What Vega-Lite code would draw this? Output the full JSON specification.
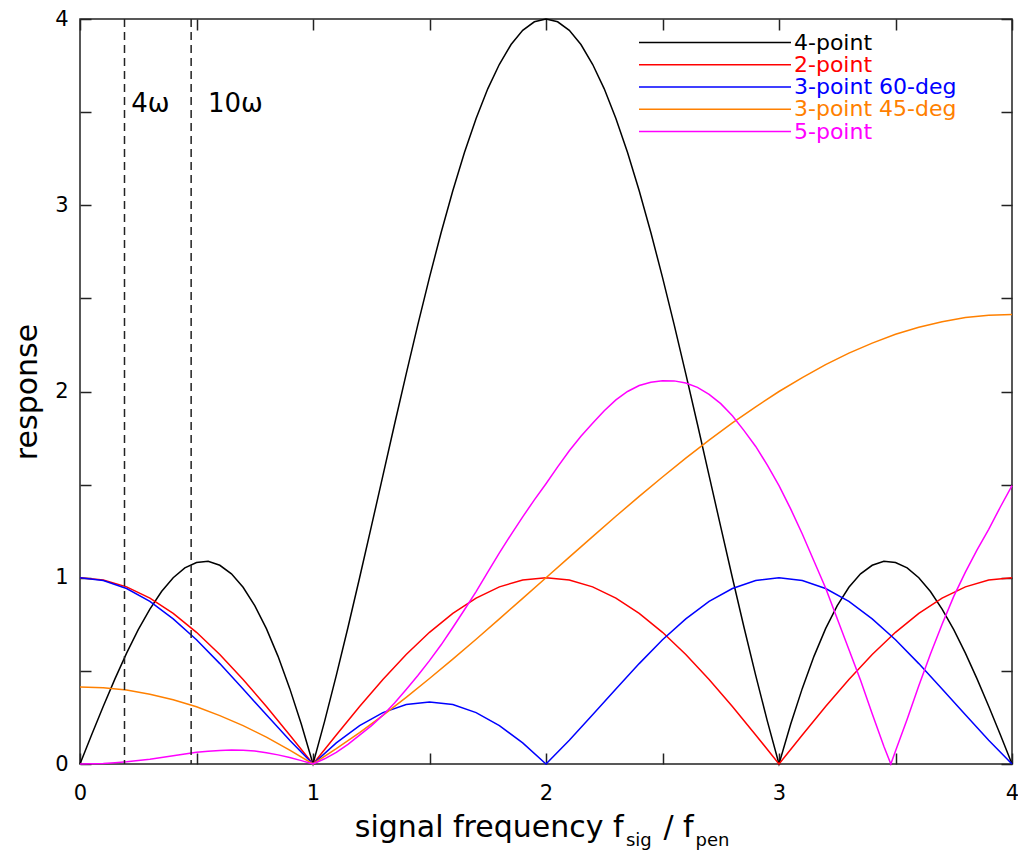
{
"$schema": "https://vega.github.io/schema/vega-lite/v6.json",
"width": 932, "height": 745,
"autosize": {"type": "none"},
"padding": {"left": 80, "top": 19, "right": 6, "bottom": 96},
"background": "white",
"config": {"view": {"stroke": "#222", "strokeWidth": 1.5}, "font": "DejaVu Sans", "axis": {"grid": false}},
"resolve": {"axis": {"x": "independent", "y": "independent"}},
"datasets": {
"curves": [
{"s":"4-point","x":0,"y":0},{"s":"4-point","x":0.05,"y":0.157},{"s":"4-point","x":0.1,"y":0.31},{"s":"4-point","x":0.15,"y":0.457},{"s":"4-point","x":0.2,"y":0.595},{"s":"4-point","x":0.25,"y":0.721},{"s":"4-point","x":0.3,"y":0.832},{"s":"4-point","x":0.35,"y":0.926},{"s":"4-point","x":0.4,"y":1},{"s":"4-point","x":0.45,"y":1.053},{"s":"4-point","x":0.5,"y":1.082},{"s":"4-point","x":0.55,"y":1.088},{"s":"4-point","x":0.6,"y":1.067},{"s":"4-point","x":0.65,"y":1.021},{"s":"4-point","x":0.7,"y":0.949},{"s":"4-point","x":0.75,"y":0.85},{"s":"4-point","x":0.8,"y":0.727},{"s":"4-point","x":0.85,"y":0.578},{"s":"4-point","x":0.9,"y":0.406},{"s":"4-point","x":0.95,"y":0.213},{"s":"4-point","x":1,"y":0},
{"s":"4-point","x":1.05,"y":0.23},{"s":"4-point","x":1.1,"y":0.476},{"s":"4-point","x":1.15,"y":0.733},{"s":"4-point","x":1.2,"y":1},{"s":"4-point","x":1.25,"y":1.273},{"s":"4-point","x":1.3,"y":1.548},{"s":"4-point","x":1.35,"y":1.824},{"s":"4-point","x":1.4,"y":2.095},{"s":"4-point","x":1.45,"y":2.359},{"s":"4-point","x":1.5,"y":2.613},{"s":"4-point","x":1.55,"y":2.854},{"s":"4-point","x":1.6,"y":3.078},{"s":"4-point","x":1.65,"y":3.283},{"s":"4-point","x":1.7,"y":3.466},{"s":"4-point","x":1.75,"y":3.625},{"s":"4-point","x":1.8,"y":3.757},{"s":"4-point","x":1.85,"y":3.863},{"s":"4-point","x":1.9,"y":3.939},{"s":"4-point","x":1.95,"y":3.985},{"s":"4-point","x":2,"y":4},
{"s":"4-point","x":2.05,"y":3.985},{"s":"4-point","x":2.1,"y":3.939},{"s":"4-point","x":2.15,"y":3.863},{"s":"4-point","x":2.2,"y":3.757},{"s":"4-point","x":2.25,"y":3.625},{"s":"4-point","x":2.3,"y":3.466},{"s":"4-point","x":2.35,"y":3.283},{"s":"4-point","x":2.4,"y":3.078},{"s":"4-point","x":2.45,"y":2.854},{"s":"4-point","x":2.5,"y":2.613},{"s":"4-point","x":2.55,"y":2.359},{"s":"4-point","x":2.6,"y":2.095},{"s":"4-point","x":2.65,"y":1.824},{"s":"4-point","x":2.7,"y":1.548},{"s":"4-point","x":2.75,"y":1.273},{"s":"4-point","x":2.8,"y":1},{"s":"4-point","x":2.85,"y":0.733},{"s":"4-point","x":2.9,"y":0.476},{"s":"4-point","x":2.95,"y":0.23},{"s":"4-point","x":3,"y":0},
{"s":"4-point","x":3.05,"y":0.213},{"s":"4-point","x":3.1,"y":0.406},{"s":"4-point","x":3.15,"y":0.578},{"s":"4-point","x":3.2,"y":0.727},{"s":"4-point","x":3.25,"y":0.85},{"s":"4-point","x":3.3,"y":0.949},{"s":"4-point","x":3.35,"y":1.021},{"s":"4-point","x":3.4,"y":1.067},{"s":"4-point","x":3.45,"y":1.088},{"s":"4-point","x":3.5,"y":1.082},{"s":"4-point","x":3.55,"y":1.053},{"s":"4-point","x":3.6,"y":1},{"s":"4-point","x":3.65,"y":0.926},{"s":"4-point","x":3.7,"y":0.832},{"s":"4-point","x":3.75,"y":0.721},{"s":"4-point","x":3.8,"y":0.595},{"s":"4-point","x":3.85,"y":0.457},{"s":"4-point","x":3.9,"y":0.31},{"s":"4-point","x":3.95,"y":0.157},{"s":"4-point","x":4,"y":0},
{"s":"2-point","x":0,"y":1},{"s":"2-point","x":0.1,"y":0.988},{"s":"2-point","x":0.2,"y":0.951},{"s":"2-point","x":0.3,"y":0.891},{"s":"2-point","x":0.4,"y":0.809},{"s":"2-point","x":0.5,"y":0.707},{"s":"2-point","x":0.6,"y":0.588},{"s":"2-point","x":0.7,"y":0.454},{"s":"2-point","x":0.8,"y":0.309},{"s":"2-point","x":0.9,"y":0.156},{"s":"2-point","x":1,"y":0},{"s":"2-point","x":1.1,"y":0.156},{"s":"2-point","x":1.2,"y":0.309},{"s":"2-point","x":1.3,"y":0.454},{"s":"2-point","x":1.4,"y":0.588},{"s":"2-point","x":1.5,"y":0.707},{"s":"2-point","x":1.6,"y":0.809},{"s":"2-point","x":1.7,"y":0.891},{"s":"2-point","x":1.8,"y":0.951},{"s":"2-point","x":1.9,"y":0.988},{"s":"2-point","x":2,"y":1},{"s":"2-point","x":2.1,"y":0.988},{"s":"2-point","x":2.2,"y":0.951},{"s":"2-point","x":2.3,"y":0.891},{"s":"2-point","x":2.4,"y":0.809},{"s":"2-point","x":2.5,"y":0.707},{"s":"2-point","x":2.6,"y":0.588},{"s":"2-point","x":2.7,"y":0.454},{"s":"2-point","x":2.8,"y":0.309},{"s":"2-point","x":2.9,"y":0.156},{"s":"2-point","x":3,"y":0},{"s":"2-point","x":3.1,"y":0.156},{"s":"2-point","x":3.2,"y":0.309},{"s":"2-point","x":3.3,"y":0.454},{"s":"2-point","x":3.4,"y":0.588},{"s":"2-point","x":3.5,"y":0.707},{"s":"2-point","x":3.6,"y":0.809},{"s":"2-point","x":3.7,"y":0.891},{"s":"2-point","x":3.8,"y":0.951},{"s":"2-point","x":3.9,"y":0.988},{"s":"2-point","x":4,"y":1},
{"s":"3-point 60-deg","x":0,"y":1},{"s":"3-point 60-deg","x":0.1,"y":0.985},{"s":"3-point 60-deg","x":0.2,"y":0.942},{"s":"3-point 60-deg","x":0.3,"y":0.873},{"s":"3-point 60-deg","x":0.4,"y":0.779},{"s":"3-point 60-deg","x":0.5,"y":0.667},{"s":"3-point 60-deg","x":0.6,"y":0.539},{"s":"3-point 60-deg","x":0.7,"y":0.403},{"s":"3-point 60-deg","x":0.8,"y":0.264},{"s":"3-point 60-deg","x":0.9,"y":0.127},{"s":"3-point 60-deg","x":1,"y":0},{"s":"3-point 60-deg","x":1.1,"y":0.113},{"s":"3-point 60-deg","x":1.2,"y":0.206},{"s":"3-point 60-deg","x":1.3,"y":0.276},{"s":"3-point 60-deg","x":1.4,"y":0.319},{"s":"3-point 60-deg","x":1.5,"y":0.333},{"s":"3-point 60-deg","x":1.6,"y":0.319},{"s":"3-point 60-deg","x":1.7,"y":0.276},{"s":"3-point 60-deg","x":1.8,"y":0.206},{"s":"3-point 60-deg","x":1.9,"y":0.113},{"s":"3-point 60-deg","x":2,"y":0},{"s":"3-point 60-deg","x":2.1,"y":0.127},{"s":"3-point 60-deg","x":2.2,"y":0.264},{"s":"3-point 60-deg","x":2.3,"y":0.403},{"s":"3-point 60-deg","x":2.4,"y":0.539},{"s":"3-point 60-deg","x":2.5,"y":0.667},{"s":"3-point 60-deg","x":2.6,"y":0.779},{"s":"3-point 60-deg","x":2.7,"y":0.873},{"s":"3-point 60-deg","x":2.8,"y":0.942},{"s":"3-point 60-deg","x":2.9,"y":0.985},{"s":"3-point 60-deg","x":3,"y":1},{"s":"3-point 60-deg","x":3.1,"y":0.985},{"s":"3-point 60-deg","x":3.2,"y":0.942},{"s":"3-point 60-deg","x":3.3,"y":0.873},{"s":"3-point 60-deg","x":3.4,"y":0.779},{"s":"3-point 60-deg","x":3.5,"y":0.667},{"s":"3-point 60-deg","x":3.6,"y":0.539},{"s":"3-point 60-deg","x":3.7,"y":0.403},{"s":"3-point 60-deg","x":3.8,"y":0.264},{"s":"3-point 60-deg","x":3.9,"y":0.127},{"s":"3-point 60-deg","x":4,"y":0},
{"s":"3-point 45-deg","x":0,"y":0.414},{"s":"3-point 45-deg","x":0.1,"y":0.41},{"s":"3-point 45-deg","x":0.2,"y":0.397},{"s":"3-point 45-deg","x":0.3,"y":0.375},{"s":"3-point 45-deg","x":0.4,"y":0.345},{"s":"3-point 45-deg","x":0.5,"y":0.307},{"s":"3-point 45-deg","x":0.6,"y":0.26},{"s":"3-point 45-deg","x":0.7,"y":0.206},{"s":"3-point 45-deg","x":0.8,"y":0.144},{"s":"3-point 45-deg","x":0.9,"y":0.075},{"s":"3-point 45-deg","x":1,"y":0},{"s":"3-point 45-deg","x":1.1,"y":0.082},{"s":"3-point 45-deg","x":1.2,"y":0.169},{"s":"3-point 45-deg","x":1.3,"y":0.261},{"s":"3-point 45-deg","x":1.4,"y":0.358},{"s":"3-point 45-deg","x":1.5,"y":0.459},{"s":"3-point 45-deg","x":1.6,"y":0.563},{"s":"3-point 45-deg","x":1.7,"y":0.67},{"s":"3-point 45-deg","x":1.8,"y":0.779},{"s":"3-point 45-deg","x":1.9,"y":0.889},{"s":"3-point 45-deg","x":2,"y":1},{"s":"3-point 45-deg","x":2.1,"y":1.111},{"s":"3-point 45-deg","x":2.2,"y":1.221},{"s":"3-point 45-deg","x":2.3,"y":1.33},{"s":"3-point 45-deg","x":2.4,"y":1.437},{"s":"3-point 45-deg","x":2.5,"y":1.541},{"s":"3-point 45-deg","x":2.6,"y":1.642},{"s":"3-point 45-deg","x":2.7,"y":1.739},{"s":"3-point 45-deg","x":2.8,"y":1.831},{"s":"3-point 45-deg","x":2.9,"y":1.918},{"s":"3-point 45-deg","x":3,"y":2},{"s":"3-point 45-deg","x":3.1,"y":2.075},{"s":"3-point 45-deg","x":3.2,"y":2.144},{"s":"3-point 45-deg","x":3.3,"y":2.206},{"s":"3-point 45-deg","x":3.4,"y":2.26},{"s":"3-point 45-deg","x":3.5,"y":2.307},{"s":"3-point 45-deg","x":3.6,"y":2.345},{"s":"3-point 45-deg","x":3.7,"y":2.375},{"s":"3-point 45-deg","x":3.8,"y":2.397},{"s":"3-point 45-deg","x":3.9,"y":2.41},{"s":"3-point 45-deg","x":4,"y":2.414},
{"s":"5-point","x":0,"y":0},{"s":"5-point","x":0.05,"y":0.001},{"s":"5-point","x":0.1,"y":0.003},{"s":"5-point","x":0.15,"y":0.007},{"s":"5-point","x":0.2,"y":0.012},{"s":"5-point","x":0.25,"y":0.019},{"s":"5-point","x":0.3,"y":0.026},{"s":"5-point","x":0.35,"y":0.035},{"s":"5-point","x":0.4,"y":0.044},{"s":"5-point","x":0.45,"y":0.054},{"s":"5-point","x":0.5,"y":0.063},{"s":"5-point","x":0.55,"y":0.069},{"s":"5-point","x":0.6,"y":0.073},{"s":"5-point","x":0.65,"y":0.075},{"s":"5-point","x":0.7,"y":0.074},{"s":"5-point","x":0.75,"y":0.07},{"s":"5-point","x":0.8,"y":0.061},{"s":"5-point","x":0.85,"y":0.049},{"s":"5-point","x":0.9,"y":0.035},{"s":"5-point","x":0.95,"y":0.018},{"s":"5-point","x":1,"y":0},
{"s":"5-point","x":1.05,"y":0.028},{"s":"5-point","x":1.1,"y":0.062},{"s":"5-point","x":1.15,"y":0.105},{"s":"5-point","x":1.2,"y":0.155},{"s":"5-point","x":1.25,"y":0.205},{"s":"5-point","x":1.3,"y":0.262},{"s":"5-point","x":1.35,"y":0.328},{"s":"5-point","x":1.4,"y":0.4},{"s":"5-point","x":1.45,"y":0.475},{"s":"5-point","x":1.5,"y":0.555},{"s":"5-point","x":1.55,"y":0.64},{"s":"5-point","x":1.6,"y":0.733},{"s":"5-point","x":1.65,"y":0.828},{"s":"5-point","x":1.7,"y":0.926},{"s":"5-point","x":1.75,"y":1.03},{"s":"5-point","x":1.8,"y":1.133},{"s":"5-point","x":1.85,"y":1.232},{"s":"5-point","x":1.9,"y":1.327},{"s":"5-point","x":1.95,"y":1.418},{"s":"5-point","x":2,"y":1.505},
{"s":"5-point","x":2.05,"y":1.595},{"s":"5-point","x":2.1,"y":1.682},{"s":"5-point","x":2.15,"y":1.76},{"s":"5-point","x":2.2,"y":1.83},{"s":"5-point","x":2.25,"y":1.897},{"s":"5-point","x":2.3,"y":1.955},{"s":"5-point","x":2.35,"y":2},{"s":"5-point","x":2.4,"y":2.032},{"s":"5-point","x":2.45,"y":2.05},{"s":"5-point","x":2.5,"y":2.058},{"s":"5-point","x":2.55,"y":2.057},{"s":"5-point","x":2.6,"y":2.046},{"s":"5-point","x":2.65,"y":2.022},{"s":"5-point","x":2.7,"y":1.985},{"s":"5-point","x":2.75,"y":1.935},{"s":"5-point","x":2.8,"y":1.87},{"s":"5-point","x":2.85,"y":1.79},{"s":"5-point","x":2.9,"y":1.705},{"s":"5-point","x":2.95,"y":1.605},{"s":"5-point","x":3,"y":1.495},
{"s":"5-point","x":3.05,"y":1.37},{"s":"5-point","x":3.1,"y":1.235},{"s":"5-point","x":3.15,"y":1.09},{"s":"5-point","x":3.2,"y":0.945},{"s":"5-point","x":3.25,"y":0.78},{"s":"5-point","x":3.3,"y":0.615},{"s":"5-point","x":3.35,"y":0.45},{"s":"5-point","x":3.4,"y":0.27},{"s":"5-point","x":3.45,"y":0.095},{"s":"5-point","x":3.48,"y":0},{"s":"5-point","x":3.5,"y":0.07},{"s":"5-point","x":3.55,"y":0.24},{"s":"5-point","x":3.6,"y":0.42},{"s":"5-point","x":3.65,"y":0.59},{"s":"5-point","x":3.7,"y":0.75},{"s":"5-point","x":3.75,"y":0.9},{"s":"5-point","x":3.8,"y":1.03},{"s":"5-point","x":3.85,"y":1.15},{"s":"5-point","x":3.9,"y":1.26},{"s":"5-point","x":3.95,"y":1.38},{"s":"5-point","x":4,"y":1.495}
]
},
"layer": [
{
"data": {"name": "curves"},
"mark": {"type": "line", "strokeWidth": 1.5},
"encoding": {
"x": {"field": "x", "type": "quantitative", "scale": {"domain": [0, 4], "nice": false, "zero": false},
 "axis": {"orient": "bottom", "values": [0,0.5,1,1.5,2,2.5,3,3.5,4], "labelExpr": "datum.value % 1 === 0 ? '' + datum.value : ''", "tickSize": -11, "tickWidth": 1.5, "tickColor": "#222", "domain": false, "labelFontSize": 21, "labelColor": "black", "labelPadding": 29, "labelFlush": false, "labelOverlap": false, "title": null}},
"y": {"field": "y", "type": "quantitative", "scale": {"domain": [0, 4], "nice": false, "zero": false},
 "axis": {"orient": "left", "values": [0,0.5,1,1.5,2,2.5,3,3.5,4], "labelExpr": "datum.value % 1 === 0 ? '' + datum.value : ''", "tickSize": -11, "tickWidth": 1.5, "tickColor": "#222", "domain": false, "labelFontSize": 21, "labelColor": "black", "labelPadding": 23, "labelOverlap": false, "labelFlush": false, "title": "response", "titleFontSize": 30, "titleFontWeight": "normal", "titleColor": "black", "titleFont": "DejaVu Sans", "titlePadding": 12}},
"color": {"field": "s", "type": "nominal",
 "scale": {"domain": ["4-point", "2-point", "3-point 60-deg", "3-point 45-deg", "5-point"], "range": ["#000000", "#ff0000", "#0000ff", "#ff8000", "#ff00ff"]},
 "legend": {"orient": "none", "legendX": 624, "legendY": 12.5, "title": null, "symbolType": "M-8,0H8", "symbolSize": 361, "symbolStrokeWidth": 1.5, "labelFontSize": 22, "labelFont": "DejaVu Sans", "labelOffset": 68, "rowPadding": 0.25, "padding": 0, "labelLimit": 0, "labelColor": {"expr": "scale('color', datum.value)"}}}
}
},
{
"data": {"values": [{"harmonic": "4ω", "x": 0.191}, {"harmonic": "10ω", "x": 0.477}]},
"mark": {"type": "rule", "strokeDash": [8, 5], "strokeWidth": 1.5, "color": "#222"},
"encoding": {
"x": {"field": "x", "type": "quantitative", "scale": {"domain": [0, 4], "nice": false, "zero": false},
 "axis": {"orient": "top", "values": [0,0.5,1,1.5,2,2.5,3,3.5,4], "labels": false, "domain": false, "tickSize": -11, "tickWidth": 1.5, "tickColor": "#222", "title": null}}
}
},
{
"data": {"name": "curves"},
"mark": {"type": "point", "opacity": 0},
"encoding": {
"x": {"field": "x", "type": "quantitative", "scale": {"domain": [0, 4], "nice": false, "zero": false}, "axis": null},
"y": {"field": "y", "type": "quantitative", "scale": {"domain": [0, 4], "nice": false, "zero": false},
 "axis": {"orient": "right", "values": [0,0.5,1,1.5,2,2.5,3,3.5,4], "labels": false, "domain": false, "tickSize": -11, "tickWidth": 1.5, "tickColor": "#222", "title": null}}
}
},
{
"data": {"values": [{"t": "4ω", "x": 0.22}, {"t": "10ω", "x": 0.549}]},
"mark": {"type": "text", "align": "left", "baseline": "alphabetic", "fontSize": 26, "font": "DejaVu Sans", "color": "black"},
"encoding": {
"x": {"field": "x", "type": "quantitative", "scale": {"domain": [0, 4], "nice": false, "zero": false}, "axis": null},
"y": {"datum": 3.5, "type": "quantitative", "scale": {"domain": [0, 4], "nice": false, "zero": false}, "axis": null},
"text": {"field": "t"}
}
},
{
"data": {"values": [{"part": "main"}]},
"mark": {"type": "text", "align": "right", "baseline": "alphabetic", "fontSize": 30, "font": "DejaVu Sans", "color": "black", "text": "signal frequency f"},
"encoding": {
"x": {"datum": 2.333, "type": "quantitative", "scale": {"domain": [0, 4], "nice": false, "zero": false}, "axis": null},
"y": {"datum": -0.392, "type": "quantitative", "scale": {"domain": [0, 4], "nice": false, "zero": false}, "axis": null}
}
},
{
"data": {"values": [{"part": "sub1"}]},
"mark": {"type": "text", "align": "left", "baseline": "alphabetic", "fontSize": 18, "font": "DejaVu Sans", "color": "black", "text": "sig"},
"encoding": {
"x": {"datum": 2.343, "type": "quantitative", "scale": {"domain": [0, 4], "nice": false, "zero": false}, "axis": null},
"y": {"datum": -0.442, "type": "quantitative", "scale": {"domain": [0, 4], "nice": false, "zero": false}, "axis": null}
}
},
{
"data": {"values": [{"part": "slash"}]},
"mark": {"type": "text", "align": "left", "baseline": "alphabetic", "fontSize": 30, "font": "DejaVu Sans", "color": "black", "text": "/ f"},
"encoding": {
"x": {"datum": 2.504, "type": "quantitative", "scale": {"domain": [0, 4], "nice": false, "zero": false}, "axis": null},
"y": {"datum": -0.392, "type": "quantitative", "scale": {"domain": [0, 4], "nice": false, "zero": false}, "axis": null}
}
},
{
"data": {"values": [{"part": "sub2"}]},
"mark": {"type": "text", "align": "left", "baseline": "alphabetic", "fontSize": 18, "font": "DejaVu Sans", "color": "black", "text": "pen"},
"encoding": {
"x": {"datum": 2.642, "type": "quantitative", "scale": {"domain": [0, 4], "nice": false, "zero": false}, "axis": null},
"y": {"datum": -0.442, "type": "quantitative", "scale": {"domain": [0, 4], "nice": false, "zero": false}, "axis": null}
}
}
]
}
